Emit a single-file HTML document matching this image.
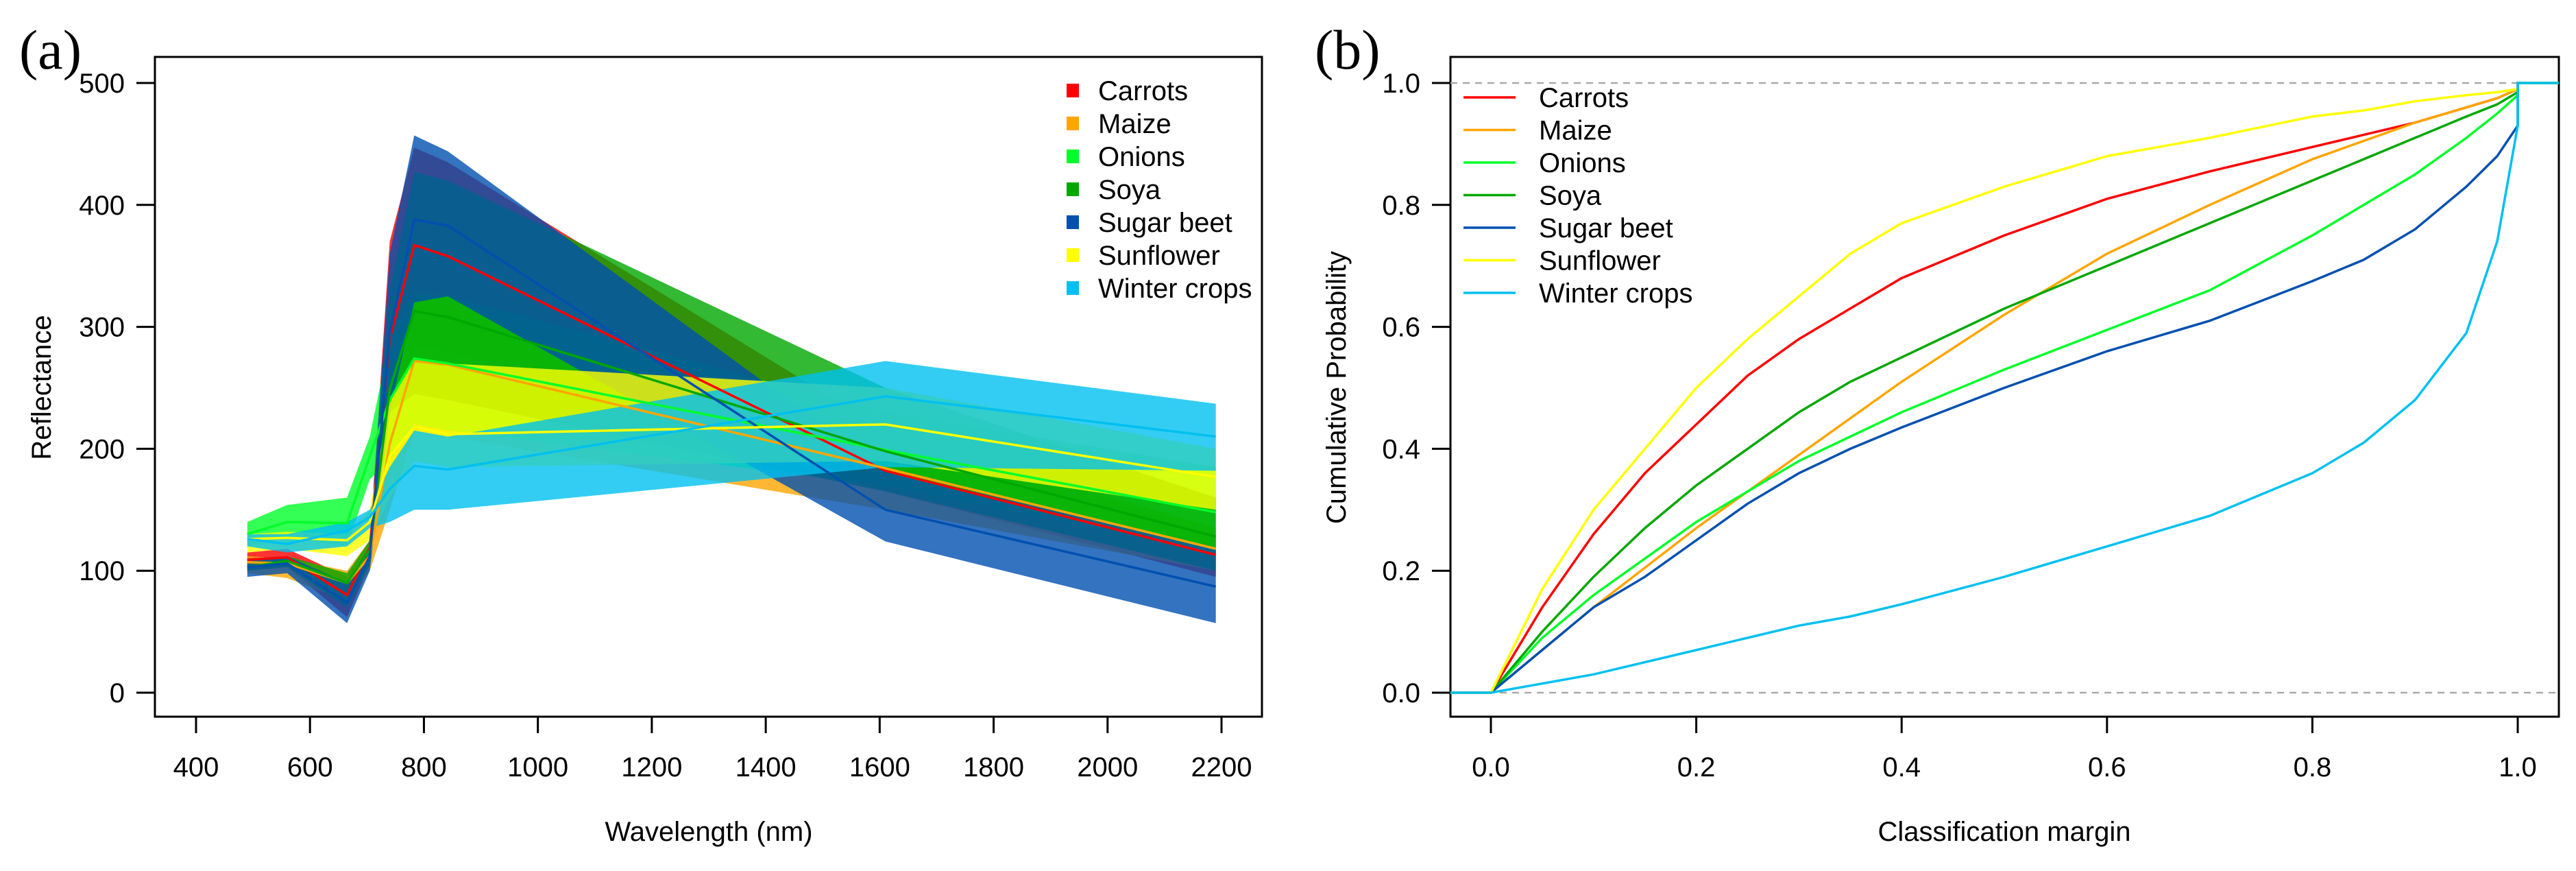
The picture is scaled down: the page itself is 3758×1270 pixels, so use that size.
<!DOCTYPE html>
<html><head><meta charset="utf-8"><style>
html,body{margin:0;padding:0;background:#fff;}
svg{display:block;font-family:"Liberation Sans",sans-serif;}
</style></head><body>
<svg id="chart" width="3758" height="1270" viewBox="0 0 3758 1270" xmlns="http://www.w3.org/2000/svg">
<text x="28" y="100" font-family="Liberation Serif,serif" font-size="82">(a)</text>
<text x="1918" y="100" font-family="Liberation Serif,serif" font-size="82">(b)</text>
<rect x="226" y="83" width="1615" height="962" fill="none" stroke="#000" stroke-width="3"/>
<rect x="2116" y="83" width="1617" height="962" fill="none" stroke="#000" stroke-width="3"/>
<g id="a"></g>
<g id="b"></g>
<text x="1034" y="1226" font-size="40" text-anchor="middle">Wavelength (nm)</text>
<text transform="translate(74,565) rotate(-90)" font-size="40" text-anchor="middle">Reflectance</text>
<text x="2924" y="1226" font-size="40" text-anchor="middle">Classification margin</text>
<text transform="translate(1963,565) rotate(-90)" font-size="40" text-anchor="middle">Cumulative Probability</text>
</svg>
<script>
const NS="http://www.w3.org/2000/svg";
const names=["Carrots","Maize","Onions","Soya","Sugar beet","Sunflower","Winter crops"];
const colors=["#ff0000","#ffa500","#00ff2a","#00a800","#0050b0","#ffff00","#00c0f0"];
const wavelengths=[490,560,665,705,740,783,842,1610,2190];
const meanCarrots=[109,111,80,119,290,367,358,182,113];
const meanMaize=[107,106,90,112,204,272,269,184,118];
const meanOnions=[130,140,139,194,240,274,270,199,148];
const meanSoya=[103,108,90,117,249,313,308,198,128];
const meanSugar=[103,106,74,112,295,388,383,150,87];
const meanSunflower=[126,127,125,140,194,218,212,220,177];
const meanWinter=[126,122,133,144,167,186,183,243,210];
const upCarrots=[115,118,95,125,370,447,435,215,130];
const loCarrots=[100,103,62,105,220,285,280,165,95];
const upMaize=[112,110,100,125,260,330,325,215,135];
const loMaize=[98,94,75,100,150,215,210,150,100];
const upOnions=[140,154,160,210,290,327,325,230,185];
const loOnions=[120,127,120,175,190,220,215,170,115];
const upSoya=[110,112,98,125,330,427,420,250,160];
const loSoya=[100,103,70,105,230,245,240,165,100];
const upSugar=[110,112,90,120,360,457,444,182,118];
const loSugar=[95,98,57,100,230,320,325,124,57];
const upSunflower=[130,132,130,150,240,275,270,250,200];
const loSunflower=[115,118,112,125,160,190,185,190,150];
const upWinter=[130,130,140,150,185,215,210,272,237];
const loWinter=[120,115,120,135,140,150,150,185,182];
const xTicksA=[400,600,800,1000,1200,1400,1600,1800,2000,2200];
const yTicksA=[0,100,200,300,400,500];

const margins=[0,0.05,0.1,0.15,0.2,0.25,0.3,0.35,0.4,0.5,0.6,0.7,0.8,0.85,0.9,0.95,0.98,1.0];
const cdfCarrots=[0,0.14,0.26,0.36,0.44,0.52,0.58,0.63,0.68,0.75,0.81,0.855,0.895,0.915,0.935,0.96,0.975,0.99];
const cdfMaize=[0,0.07,0.14,0.205,0.27,0.33,0.39,0.45,0.51,0.62,0.72,0.80,0.875,0.905,0.935,0.96,0.975,0.99];
const cdfOnions=[0,0.09,0.16,0.22,0.28,0.33,0.38,0.42,0.46,0.53,0.595,0.66,0.75,0.80,0.85,0.91,0.95,0.98];
const cdfSoya=[0,0.10,0.19,0.27,0.34,0.40,0.46,0.51,0.55,0.63,0.70,0.77,0.84,0.875,0.91,0.945,0.965,0.985];
const cdfSugar=[0,0.07,0.14,0.19,0.25,0.31,0.36,0.40,0.435,0.50,0.56,0.61,0.675,0.71,0.76,0.83,0.88,0.93];
const cdfSunflower=[0,0.17,0.30,0.40,0.50,0.58,0.65,0.72,0.77,0.83,0.88,0.91,0.945,0.955,0.97,0.98,0.985,0.99];
const cdfWinter=[0,0.015,0.03,0.05,0.07,0.09,0.11,0.125,0.145,0.19,0.24,0.29,0.36,0.41,0.48,0.59,0.74,0.93];
const xTicksB=[0,0.2,0.4,0.6,0.8,1.0];
const yTicksB=[0,0.2,0.4,0.6,0.8,1.0];

const means=[meanCarrots,meanMaize,meanOnions,meanSoya,meanSugar,meanSunflower,meanWinter];
const ups=[upCarrots,upMaize,upOnions,upSoya,upSugar,upSunflower,upWinter];
const los=[loCarrots,loMaize,loOnions,loSoya,loSugar,loSunflower,loWinter];
const cdfs=[cdfCarrots,cdfMaize,cdfOnions,cdfSoya,cdfSugar,cdfSunflower,cdfWinter];

function xA(w){return 286+(w-400)*(1496/1800);}
function yA(r){return 1010-r*(889/500);}
function xB(m){return 2175+m*1498;}
function yB(p){return 1010-p*889;}
function mk(tag,attrs,parent){const e=document.createElementNS(NS,tag);for(const k in attrs)e.setAttribute(k,attrs[k]);parent.appendChild(e);return e;}
const ga=document.getElementById('a'),gb=document.getElementById('b');

for(let i=0;i<names.length;i++){
  let pts=wavelengths.map((w,j)=>xA(w)+","+yA(ups[i][j]));
  for(let j=wavelengths.length-1;j>=0;j--)pts.push(xA(wavelengths[j])+","+yA(los[i][j]));
  const p=mk('polygon',{points:pts.join(' '),fill:colors[i],'fill-opacity':0.8},ga);
  
  
}
for(let i=0;i<names.length;i++){
  const p=mk('polyline',{points:wavelengths.map((w,j)=>xA(w)+","+yA(means[i][j])).join(' '),fill:'none',stroke:colors[i],'stroke-width':3.5},ga);
  
  
}
xTicksA.forEach(t=>{
  mk('line',{x1:xA(t),x2:xA(t),y1:1045,y2:1069,stroke:'#000','stroke-width':3},ga);
  const tx=mk('text',{x:xA(t),y:1132,'font-size':40,'text-anchor':'middle'},ga);tx.textContent=t;
  
  
});
yTicksA.forEach(t=>{
  mk('line',{x1:199,x2:226,y1:yA(t),y2:yA(t),stroke:'#000','stroke-width':3},ga);
  const tx=mk('text',{x:182,y:yA(t)+14,'font-size':40,'text-anchor':'end'},ga);tx.textContent=t;
  
  
});
names.forEach((n,i)=>{
  const y=132+i*48;
  const r=mk('rect',{x:1556,y:y-10,width:18,height:20,fill:colors[i]},ga);
  
  
  const tx=mk('text',{x:1602,y:y+14,'font-size':40},ga);tx.textContent=n;
  
  
});

[0,1].forEach(v=>{
  const l=mk('line',{x1:2116,x2:3733,y1:yB(v),y2:yB(v),stroke:'#aaa','stroke-width':2.5,'stroke-dasharray':'10,8'},gb);
  
  
});
for(let i=0;i<names.length;i++){
  let pts=[xB(-0.04)+","+yB(0)];
  margins.forEach((m,j)=>pts.push(xB(m)+","+yB(cdfs[i][j])));
  pts.push(xB(1)+","+yB(1));pts.push("3733,"+yB(1));
  const p=mk('polyline',{points:pts.join(' '),fill:'none',stroke:colors[i],'stroke-width':3.5},gb);
  
  
}
xTicksB.forEach(t=>{
  mk('line',{x1:xB(t),x2:xB(t),y1:1045,y2:1069,stroke:'#000','stroke-width':3},gb);
  const tx=mk('text',{x:xB(t),y:1132,'font-size':40,'text-anchor':'middle'},gb);tx.textContent=t.toFixed(1);
  
  
});
yTicksB.forEach(t=>{
  mk('line',{x1:2089,x2:2116,y1:yB(t),y2:yB(t),stroke:'#000','stroke-width':3},gb);
  const tx=mk('text',{x:2072,y:yB(t)+14,'font-size':40,'text-anchor':'end'},gb);tx.textContent=t.toFixed(1);
  
  
});
names.forEach((n,i)=>{
  const y=142+i*47.5;
  const l=mk('line',{x1:2135,x2:2211,y1:y,y2:y,stroke:colors[i],'stroke-width':3.5},gb);
  
  
  const tx=mk('text',{x:2245,y:y+14,'font-size':40},gb);tx.textContent=n;
  
  
});
</script>
</body></html>
